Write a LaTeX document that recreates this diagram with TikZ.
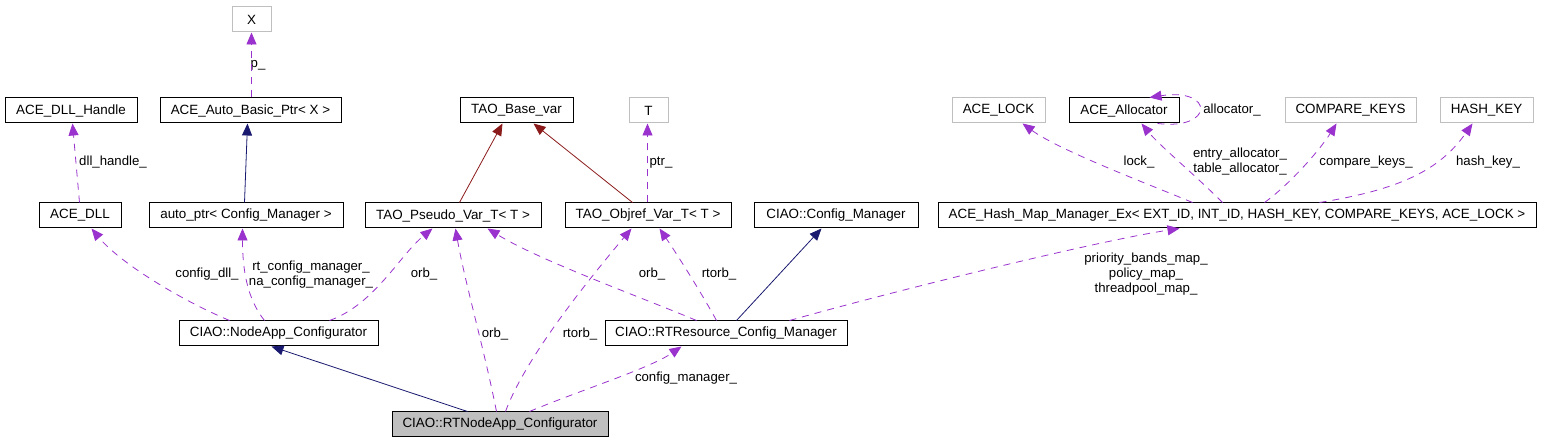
\documentclass[tikz,border=0pt]{standalone}
\usepackage{fontspec}
\setmainfont{Liberation Sans}
\usetikzlibrary{arrows.meta}
\definecolor{memberpurple}{HTML}{9A32CD}
\definecolor{pubblue}{HTML}{191970}
\definecolor{privred}{HTML}{8B1A1A}
\definecolor{extgray}{HTML}{BFBFBF}
\tikzset{
     cls node/.style={draw=black, line width=1pt, minimum height=25pt, inner sep=0pt, font=\fontsize{13.4}{15}\selectfont},
     ext node/.style={cls node, draw=extgray},
     focus node/.style={cls node, fill=extgray},
     lbl/.style={inner sep=0pt, align=center, font=\fontsize{13.2}{15}\selectfont},
     useedge/.style={memberpurple, line width=0.8pt, dash pattern=on 7pt off 6pt, -{Triangle[length=12pt,width=10pt]}},
     pubedge/.style={pubblue, line width=0.8pt, -{Triangle[length=12pt,width=10pt]}},
     privedge/.style={privred, line width=0.8pt, -{Triangle[length=12pt,width=10pt]}},
    }
\begin{document}
\begin{tikzpicture}[x=1pt,y=-1pt]
        \useasboundingbox (0,0) rectangle (1556,443);

        % top rows
        \node [ext node, minimum width=39pt]  (X)           at (251.5,19.5)  {X};
        \node [cls node, minimum width=132pt] (dllhandle)   at (71,110.5)    {ACE\_DLL\_Handle};
        \node [cls node, minimum width=181pt] (autobasic)   at (250.5,110.5) {ACE\_Auto\_Basic\_Ptr< X >};
        \node [cls node, minimum width=113pt] (basevar)     at (516.5,110.5) {TAO\_Base\_var};
        \node [ext node, minimum width=39pt]  (T)           at (648.5,110.5) {T};
        \node [ext node, minimum width=93pt]  (acelock)     at (998.5,110.5) {ACE\_LOCK};
        \node [cls node, minimum width=110pt] (allocator)   at (1124,110.5)  {ACE\_Allocator};
        \node [ext node, minimum width=131pt] (comparekeys) at (1350.5,110.5) {COMPARE\_KEYS};
        \node [ext node, minimum width=93pt]  (hashkey)     at (1486.5,110.5) {HASH\_KEY};

        \node [cls node, minimum width=82pt]  (acedll)      at (80,215.5)    {ACE\_DLL};
        \node [cls node, minimum width=194pt] (autoptr)     at (246,215.5)   {auto\_ptr< Config\_Manager >};
        \node [cls node, minimum width=176pt] (pseudo)      at (453,215.5)   {TAO\_Pseudo\_Var\_T< T >};
        \node [cls node, minimum width=166pt] (objref)      at (648,215.5)   {TAO\_Objref\_Var\_T< T >};
        \node [cls node, minimum width=164pt] (cfgmgr)      at (836,215.5)   {CIAO::Config\_Manager};
        \node [cls node, minimum width=598pt] (hashmap)     at (1237,215.5)  {ACE\_Hash\_Map\_Manager\_Ex< EXT\_ID, INT\_ID, HASH\_KEY, COMPARE\_KEYS, ACE\_LOCK >};

        % bottom rows
        \node [cls node, minimum width=199pt] (nodeapp)     at (278.5,333.5) {CIAO::NodeApp\_Configurator};
        \node [cls node, minimum width=242pt] (rtresource)  at (726,333.5)   {CIAO::RTResource\_Config\_Manager};
        \node [focus node, minimum width=216pt] (rtnode)    at (500,424.5)   {CIAO::RTNodeApp\_Configurator};

        % labels
        \node [lbl] (lp)       at (258,65)    {p\_};
        \node [lbl] (ldll)     at (113,162)   {dll\_handle\_};
        \node [lbl] (lptr)     at (661,163)   {ptr\_};
        \node [lbl] (lcfgdll)  at (207,274)   {config\_dll\_};
        \node [lbl] (lcfgmgr)  at (311,275)   {rt\_config\_manager\_\\na\_config\_manager\_};
        \node [lbl] (lorba)    at (424,274)   {orb\_};
        \node [lbl] (lorbb)    at (495,334)   {orb\_};
        \node [lbl] (lrtorba)  at (580,334)   {rtorb\_};
        \node [lbl] (lconfig)  at (686,378)   {config\_manager\_};
        \node [lbl] (lorbc)    at (652,274)   {orb\_};
        \node [lbl] (lrtorbb)  at (719,274)   {rtorb\_};
        \node [lbl] (lmaps)    at (1146,274)  {priority\_bands\_map\_\\policy\_map\_\\threadpool\_map\_};
        \node [lbl] (llock)    at (1139,162)  {lock\_};
        \node [lbl] (lalloc)   at (1240,162)  {entry\_allocator\_\\table\_allocator\_};
        \node [lbl] (lcompare) at (1366,162)  {compare\_keys\_};
        \node [lbl] (lhash)    at (1488,162)  {hash\_key\_};
        \node [lbl] (lself)    at (1232,110)  {allocator\_};

        % inheritance
        \draw [pubedge]  ([xshift=96pt]autoptr.north west) -- ([xshift=88pt]autobasic.south west);
        \draw [privedge] ([xshift=95pt]pseudo.north west) -- ([xshift=43pt]basevar.south west);
        \draw [privedge] ([xshift=68pt]objref.north west) -- ([xshift=74pt]basevar.south west);
        \draw [pubedge]  ([xshift=76pt]rtnode.north west) -- ([xshift=93pt]nodeapp.south west);
        \draw [pubedge]  ([xshift=132pt]rtresource.north west) -- ([xshift=68pt]cfgmgr.south west);

        % members
        \draw [useedge] ([xshift=92pt]autobasic.north west) -- ([xshift=20pt]X.south west);
        \draw [useedge] ([xshift=41pt]acedll.north west) -- ([xshift=68pt]dllhandle.south west);
        \draw [useedge] ([xshift=83pt]objref.north west) -- ([xshift=19pt]T.south west);
        \draw [useedge] ([xshift=51pt]nodeapp.north west) .. controls +(-50,-21) and +(28,34) .. ([xshift=53pt]acedll.south west);
        \draw [useedge] ([xshift=86pt]nodeapp.north west) .. controls +(-17,-21) and +(0,42) .. ([xshift=94pt]autoptr.south west);
        \draw [useedge] ([xshift=151pt]nodeapp.north west) .. controls +(45,-16) and +(-33,27) .. ([xshift=68pt]pseudo.south west);
        \draw [useedge] ([xshift=105pt]rtnode.north west) .. controls +(-12,-61) and +(9,52) .. ([xshift=91pt]pseudo.south west);
        \draw [useedge] ([xshift=114pt]rtnode.north west) .. controls +(19,-51) and +(-52,62) .. ([xshift=67pt]objref.south west);
        \draw [useedge] ([xshift=138pt]rtnode.north west) .. controls +(50,-21) and +(-32,22) .. ([xshift=77pt]rtresource.south west);
        \draw [useedge] ([xshift=92pt]rtresource.north west) .. controls +(-57,-24) and +(52,32) .. ([xshift=123pt]pseudo.south west);
        \draw [useedge] ([xshift=112pt]rtresource.north west) .. controls +(-17,-31) and +(15,22) .. ([xshift=95pt]objref.south west);
        \draw [useedge] ([xshift=185pt]rtresource.north west) .. controls +(110,-31) and +(-80,12) .. ([xshift=242pt]hashmap.south west);
        \draw [useedge] ([xshift=255pt]hashmap.north west) .. controls +(-43,-18) and +(37,27) .. ([xshift=71pt]acelock.south west);
        \draw [useedge] ([xshift=285pt]hashmap.north west) .. controls +(-28,-28) and +(18,22) .. ([xshift=73pt]allocator.south west);
        \draw [useedge] ([xshift=327pt]hashmap.north west) .. controls +(25,-18) and +(-17,27) .. ([xshift=52pt]comparekeys.south west);
        \draw [useedge] ([xshift=382pt]hashmap.north west) .. controls +(80,-13) and +(-33,47) .. ([xshift=33pt]hashkey.south west);
        \draw [useedge] ([xshift=89pt]allocator.south west) .. controls +(57,7) and +(65,-10) .. ([xshift=81pt]allocator.north west);
    \end{tikzpicture}
\end{document}
